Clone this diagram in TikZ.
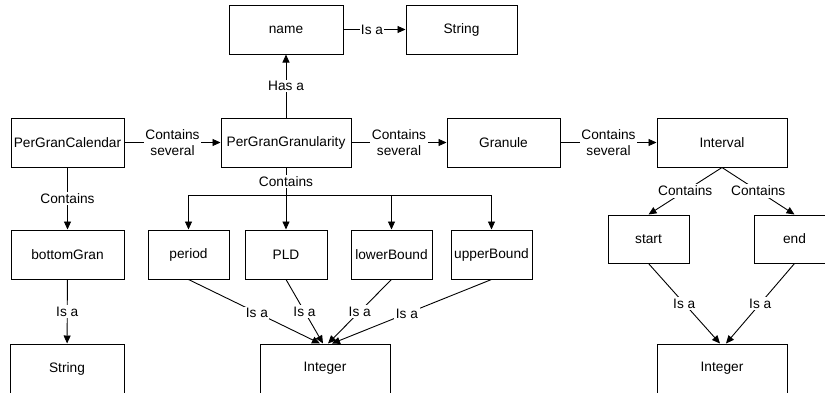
\documentclass[tikz,border=0pt]{standalone}
\usepackage{fontspec}
\setmainfont{Liberation Sans}
\usetikzlibrary{arrows.meta}

\begin{document}
\begin{tikzpicture}[x=1pt,y=-1pt,
  txt/.style={font=\fontsize{13.7}{16}\selectfont},
  box/.style={txt, draw, line width=1pt, minimum height=49pt, inner sep=0pt},
  lbl/.style={txt, fill=white, inner sep=1.5pt, align=center},
  arr/.style={line width=0.9pt, -{Triangle[length=8pt,width=7pt]}},
  ln/.style={line width=0.9pt}]
\useasboundingbox (0,0) rectangle (825,392);
\clip (0,0) rectangle (825,392);

% top row
\node[box, minimum width=114pt] (name) at (286,29.5) {name};
\node[box, minimum width=111pt] (strtop) at (461.5,29.5) {String};

% main chain
\node[box, minimum width=113pt] (cal) at (67.5,142.5) {PerGranCalendar};
\node[box, minimum width=130pt] (gran) at (286,142.5) {PerGranGranularity};
\node[box, minimum width=113pt] (granule) at (503.5,142.5) {Granule};
\node[box, minimum width=130pt] (interval) at (722,142.5) {Interval};

% attributes
\node[box, minimum width=113pt] (bottom) at (67.5,254.5) {bottomGran};
\node[box, minimum width=81pt] (period) at (188.5,254.5) {period};
\node[box, minimum width=82pt] (pld) at (286,254.5) {PLD};
\node[box, minimum width=81pt] (lower) at (391.5,254.5) {lowerBound};
\node[box, minimum width=81pt] (upper) at (491.5,254.5) {upperBound};
\node[box, minimum width=81pt, minimum height=48pt] (startn) at (648.5,239) {start};
\node[box, minimum width=81pt, minimum height=48pt] (endn) at (794.5,239) {end};

% base types
\node[box, minimum width=114pt] (strbot) at (67,368.5) {String};
\node[box, minimum width=130pt] (intA) at (325,368.5) {Integer};
\node[box, minimum width=130pt] (intB) at (722,368.5) {Integer};

% relations along the top
\draw[arr] (name) -- node[lbl, inner sep=1pt, pos=0.46] {Is a} (strtop);
\draw[arr] (gran) -- node[lbl] {Has a} (name);
\draw[arr] (cal) -- node[lbl] {Contains\\several} (gran);
\draw[arr] (gran) -- node[lbl] {Contains\\several} (granule);
\draw[arr] (granule) -- node[lbl] {Contains\\several} (interval);

% PerGranCalendar to bottomGran
\draw[arr] (cal) -- node[lbl] {Contains} (bottom);
\draw[arr] (bottom) -- node[lbl] {Is a} (strbot);

% distribution bus under PerGranGranularity
\coordinate (bus) at (286,195);
\draw[ln] (gran.south) -- node[lbl] {Contains} (bus);
\draw[arr] (bus) -| (period.north);
\draw[arr] (bus) -- (pld.north);
\draw[arr] (bus) -| (lower.north);
\draw[arr] (bus) -| (upper.north);

% attributes to Integer
\draw[arr] (period.south) -- node[lbl, pos=0.52] {Is a} ([xshift=-5pt]intA.north);
\draw[arr] (pld.south) -- node[lbl] {Is a} ([xshift=-2pt]intA.north);
\draw[arr] (lower.south) -- node[lbl] {Is a} ([xshift=3pt]intA.north);
\draw[arr] (upper.south) -- node[lbl, pos=0.53] {Is a} ([xshift=7pt]intA.north);

% Interval parts
\draw[arr] (interval.south) -- node[lbl] {Contains} (startn.north);
\draw[arr] (interval.south) -- node[lbl] {Contains} (endn.north);
\draw[arr] (startn.south) -- node[lbl] {Is a} ([xshift=-2pt]intB.north);
\draw[arr] (endn.south) -- node[lbl] {Is a} ([xshift=4pt]intB.north);
\end{tikzpicture}
\end{document}
